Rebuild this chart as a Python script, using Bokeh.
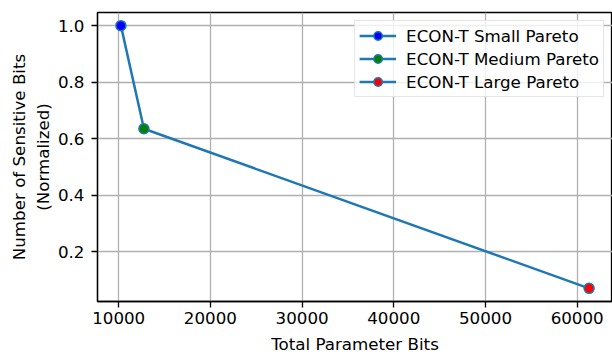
from bokeh.plotting import figure
from bokeh.models import FixedTicker, NumeralTickFormatter, Legend, LegendItem, Range1d
from bokeh.embed import file_html
from bokeh.resources import INLINE

labels = ["ECON-T Small Pareto", "ECON-T Medium Pareto", "ECON-T Large Pareto"]
param_bits = [10240, 12750, 61300]
sens_bits = [1.0, 0.635, 0.07]
marker_colors = ["blue", "green", "red"]
x_ticks = [10000, 20000, 30000, 40000, 50000, 60000]
y_ticks = [0.2, 0.4, 0.6, 0.8, 1.0]

FONT = "DejaVu Sans"
FS = "16.7px"
LINE = "#1f77b4"

p = figure(width=612, height=356, output_backend="svg", toolbar_location=None,
           x_range=Range1d(7687, 63853), y_range=Range1d(0.0235, 1.0465),
           min_border_left=97, min_border_right=0, min_border_top=12, min_border_bottom=52)

ln = p.line(param_bits, sens_bits, line_color=LINE, line_width=2.5)
items = []
for i in range(3):
    r = p.scatter([param_bits[i]], [sens_bits[i]], size=10, fill_color=marker_colors[i],
                  line_color=LINE, line_width=1.5)
    items.append(LegendItem(label=labels[i], renderers=[ln, r]))

leg = Legend(items=items, location="top_right", label_text_font=FONT,
             label_text_font_size=FS, label_text_color="black",
             border_line_color="#cccccc", border_line_width=1,
             background_fill_alpha=0.8, spacing=2, padding=4, margin=8,
             glyph_width=37, glyph_height=21, label_height=21, label_standoff=10)
p.add_layout(leg, "center")

for ax in (p.xaxis[0], p.yaxis[0]):
    ax.major_label_text_font = FONT
    ax.major_label_text_font_size = FS
    ax.axis_label_text_font = FONT
    ax.axis_label_text_font_size = FS
    ax.axis_label_text_font_style = "normal"
    ax.minor_tick_line_color = None
    ax.major_tick_out = 6
    ax.major_tick_in = 0
    ax.major_tick_line_width = 1.3
    ax.axis_line_width = 1.3
    ax.axis_line_color = "black"
    ax.major_label_text_color = "black"
    ax.axis_label_text_color = "black"

p.xaxis.ticker = FixedTicker(ticks=x_ticks)
p.yaxis.ticker = FixedTicker(ticks=y_ticks)
p.xaxis.formatter = NumeralTickFormatter(format="0")
p.yaxis.formatter = NumeralTickFormatter(format="0.0")
p.xaxis.axis_label = "Total Parameter Bits"
p.yaxis.axis_label = "Number of Sensitive Bits\n(Normalized)"
p.xaxis.major_label_standoff = 4
p.yaxis.major_label_standoff = 7
p.xaxis.axis_label_standoff = 7
p.yaxis.axis_label_standoff = 2

p.grid.grid_line_color = "#b0b0b0"
p.grid.grid_line_width = 1.3
p.outline_line_color = "black"
p.outline_line_width = 1.3
p.background_fill_color = "white"
p.border_fill_color = "white"

open("out.html", "w").write(file_html(p, INLINE))
